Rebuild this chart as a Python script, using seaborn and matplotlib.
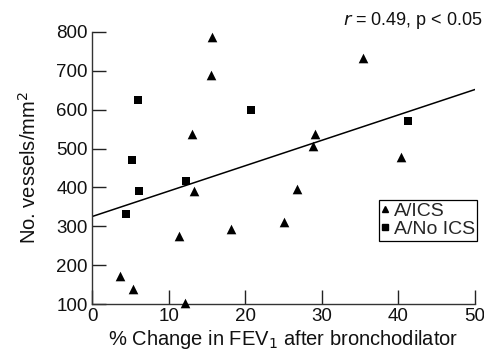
import matplotlib
matplotlib.use("Agg")
import matplotlib.pyplot as plt
import seaborn as sns
import pandas as pd
import numpy as np
from matplotlib.lines import Line2D

# Data
ics_x = [3.7, 5.3, 12.1, 11.3, 13.3, 13.1, 15.5, 15.7, 18.1, 25.0, 26.7, 29.1, 28.8, 35.4, 40.4]
ics_y = [172, 138, 103, 275, 391, 537, 689, 786, 293, 311, 395, 537, 507, 734, 479]
noics_x = [6.05, 5.2, 6.2, 4.4, 12.3, 20.8, 41.3]
noics_y = [624, 471, 391, 331, 417, 599, 571]
fit_x = [0, 50]
fit_y = [325, 652]
groups = ["A/ICS", "A/No ICS"]
x_ticks = [0, 10, 20, 30, 40, 50]
y_ticks = [100, 200, 300, 400, 500, 600, 700, 800]

df = pd.DataFrame({
    "x": ics_x + noics_x,
    "y": ics_y + noics_y,
    "group": [groups[0]] * len(ics_x) + [groups[1]] * len(noics_x),
})

sns.set_style("white")
plt.rcParams["font.family"] = ["Liberation Sans", "DejaVu Sans"]

fig = plt.figure(figsize=(4.85, 3.53), dpi=100)
ax = fig.add_axes([0.1897, 0.1388, 0.7897, 0.7706])

sub_t = df[df.group == groups[0]]
sub_s = df[df.group == groups[1]]
sns.scatterplot(data=sub_t, x="x", y="y", marker="^", s=48, color="black",
                edgecolor="black", linewidth=0, ax=ax, clip_on=False, zorder=3)
sns.scatterplot(data=sub_s, x="x", y="y", marker="s", s=30, color="black",
                edgecolor="black", linewidth=0, ax=ax, clip_on=False, zorder=3)
sns.lineplot(x=fit_x, y=fit_y, color="black", linewidth=1.1, ax=ax)

ax.set_xlim(0, 50)
ax.set_ylim(100, 800)
ax.set_xticks(x_ticks)
ax.set_yticks(y_ticks)
ax.tick_params(axis="both", direction="in", length=10, width=1, color="#222222",
               labelsize=13.5, pad=3, labelcolor="#111111", bottom=True, left=True)
for side in ["top", "right"]:
    ax.spines[side].set_visible(False)
for side in ["left", "bottom"]:
    ax.spines[side].set_color("#333333")
    ax.spines[side].set_linewidth(1.0)

ax.set_xlabel("% Change in FEV$_1$ after bronchodilator", fontsize=14.5, labelpad=2,
              color="#111111")
ax.set_ylabel("No. vessels/mm$^2$", fontsize=14.5, labelpad=12, color="#111111")

fig.text(0.996, 0.942, "$r$ = 0.49, p < 0.05", ha="right", va="center", fontsize=13,
         color="#111111")

handles = [
    Line2D([], [], marker="^", color="black", linestyle="none", markersize=5),
    Line2D([], [], marker="s", color="black", linestyle="none", markersize=4.5),
]
leg = ax.legend(handles, groups, loc="lower right", bbox_to_anchor=(1.006, 0.233),
                frameon=True, fancybox=False, fontsize=14, handlelength=0.4,
                handletextpad=0.25, borderpad=0.12, labelspacing=0.05,
                borderaxespad=0, framealpha=1)
leg.get_frame().set_edgecolor("black")
leg.get_frame().set_linewidth(0.9)

fig.savefig("out.png", dpi=100)
